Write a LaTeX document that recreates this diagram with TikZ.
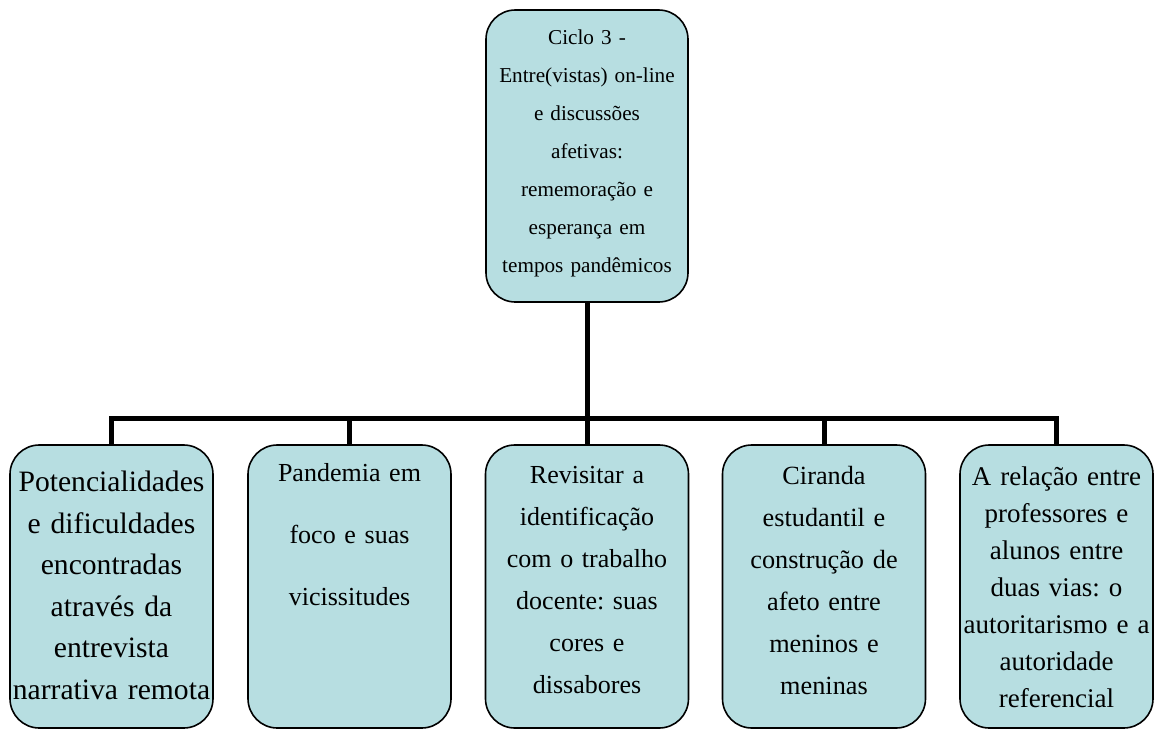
\documentclass[tikz,border=0pt]{standalone}
\usepackage{fontspec}
\setmainfont{Liberation Serif}
\frenchspacing
\usetikzlibrary{positioning}
\definecolor{boxfill}{RGB}{183,222,225}
\tikzstyle{box}=[draw, line width=1.2pt, fill=boxfill, rounded corners=22pt,
                 inner sep=0, outer sep=0, anchor=north]
\tikzstyle{root}=[box, minimum width=151.5pt, minimum height=219pt]
\tikzstyle{leaf}=[box, minimum width=152.25pt, minimum height=212.25pt]
\tikzstyle{boxtext}=[inner sep=0, outer sep=0, align=center, text width=165pt]
% Text of the top box and of the five lower boxes (font size, line spacing).
\tikzstyle{roottext}=[boxtext, font=\fontsize{15.9pt}{28.5pt}\selectfont]
\tikzset{leaftext/.style 2 args={boxtext, font=\fontsize{#1}{#2}\selectfont}}
\tikzstyle{link}=[line width=3.75pt]

\begin{document}
\begin{tikzpicture}[x=0.75pt, y=-0.75pt]
    \useasboundingbox (0, 0) rectangle (1154, 729);
    \node[root] (cycle) at (587, 10) {};
    \node[roottext, below=14.7pt of cycle.north] (cycletext)
        {Ciclo 3 -\\Entre(vistas) on-line\\e discussões\\afetivas:\\rememoração e\\esperança em\\tempos pandêmicos};

    \node[leaf] (L1) at (111.5, 445) {};
    \node[leaf] (L2) at (349.5, 445) {};
    \node[leaf] (L3) at (587, 445) {};
    \node[leaf] (L4) at (824, 445) {};
    \node[leaf, minimum width=144.75pt] (L5) at (1056.5, 445) {};

    \node[leaftext={22.2pt}{31.1pt}, below=19.7pt of L1.north] (L1text)
        {Potencialidades\\e dificuldades\\encontradas\\através da\\entrevista\\narrativa remota};
    \node[leaftext={19.5pt}{46.5pt}, below=14.1pt of L2.north] (L2text)
        {Pandemia em\\foco e suas\\vicissitudes};
    \node[leaftext={19.5pt}{31.5pt}, below=15.6pt of L3.north] (L3text)
        {Revisitar a\\identificação\\com o trabalho\\docente: suas\\cores e\\dissabores};
    \node[leaftext={19.7pt}{31.5pt}, below=15.6pt of L4.north] (L4text)
        {Ciranda\\estudantil e\\construção de\\afeto entre\\meninos e\\meninas};
    \node[leaftext={20.25pt}{27.75pt}, below=16.6pt of L5.north] (L5text)
        {A relação entre\\professores e\\alunos entre\\duas vias: o\\autoritarismo e a\\autoridade\\referencial};

    \coordinate (bus) at (587, 418);
    \draw[link] (cycle.south) -- (cycle.south |- bus);
    \draw[link] (L1.north) -- (L1.north |- bus) -- (L5.north |- bus) -- (L5.north);
    \foreach \n in {2, 3, 4}
        \draw[link] (L\n.north) -- (L\n.north |- bus);
\end{tikzpicture}
\end{document}
